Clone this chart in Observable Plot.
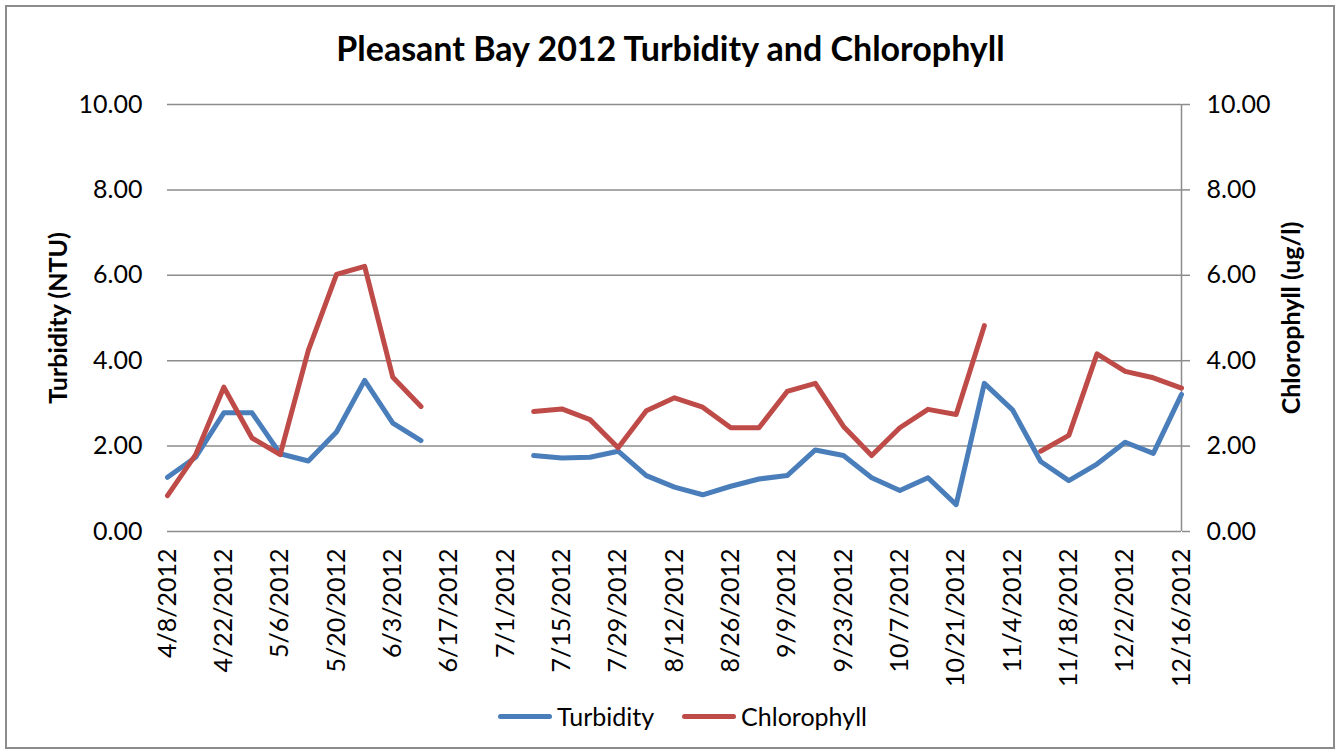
<!DOCTYPE html>
<html>
<head>
<meta charset="utf-8">
<script src="https://cdn.jsdelivr.net/npm/d3@7"></script>
<script src="https://cdn.jsdelivr.net/npm/@observablehq/plot@0.6"></script>
<style>
  html, body { margin: 0; padding: 0; background: #fff; }
  #wrap { position: relative; width: 1341px; height: 755px; overflow: hidden; font-family: Lato, "Liberation Sans", sans-serif; }
  #border { position: absolute; left: 5px; top: 5px; width: 1330px; height: 744px; border: 2px solid #8c8c8c; box-sizing: border-box; }
  #title { position: absolute; left: 0; width: 1341px; top: 27px; text-align: center; font-size: 34px; font-weight: bold; color: #000; }
  #legend { position: absolute; top: 701px; left: 12px; width: 1341px; display: flex; justify-content: center; font-size: 25px; color: #000; }
  .item { display: flex; align-items: center; margin: 0 14px; }
  .sw { width: 54px; height: 5px; border-radius: 3px; margin-right: 5px; }
  #chart svg { position: absolute; left: 0; top: 0; }
  g[aria-label="y-axis label"] text { font-weight: bold; }
</style>
</head>
<body>
<div id="wrap">
  <div id="chart"></div>
  <div id="border"></div>
  <div id="title">Pleasant Bay 2012 Turbidity and Chlorophyll</div>
  <div id="legend"></div>
</div>
<script>
const dates = ["2012-04-08","2012-04-15","2012-04-22","2012-04-29","2012-05-06","2012-05-13","2012-05-20","2012-05-27","2012-06-03","2012-06-10","2012-06-17","2012-06-24","2012-07-01","2012-07-08","2012-07-15","2012-07-22","2012-07-29","2012-08-05","2012-08-12","2012-08-19","2012-08-26","2012-09-02","2012-09-09","2012-09-16","2012-09-23","2012-09-30","2012-10-07","2012-10-14","2012-10-21","2012-10-28","2012-11-04","2012-11-11","2012-11-18","2012-11-25","2012-12-02","2012-12-09","2012-12-16"];
const turbidity = [1.27,1.74,2.78,2.78,1.82,1.65,2.33,3.54,2.54,2.13,null,null,null,1.78,1.72,1.74,1.88,1.31,1.04,0.86,1.06,1.23,1.31,1.91,1.78,1.26,0.96,1.26,0.63,3.47,2.85,1.64,1.19,1.58,2.09,1.83,3.21];
const chlorophyll = [0.84,1.80,3.38,2.19,1.80,4.24,6.02,6.21,3.61,2.93,null,null,null,2.81,2.87,2.62,1.96,2.83,3.13,2.91,2.43,2.43,3.28,3.47,2.46,1.78,2.43,2.86,2.74,4.82,null,1.88,2.25,4.16,3.75,3.60,3.36];
const xTicks = ["2012-04-08","2012-04-22","2012-05-06","2012-05-20","2012-06-03","2012-06-17","2012-07-01","2012-07-15","2012-07-29","2012-08-12","2012-08-26","2012-09-09","2012-09-23","2012-10-07","2012-10-21","2012-11-04","2012-11-18","2012-12-02","2012-12-16"];
const yTicks = [0, 2, 4, 6, 8, 10];
const series = [
  {name: "Turbidity", values: turbidity, color: "#4a7ebb"},
  {name: "Chlorophyll", values: chlorophyll, color: "#be4b48"}
];

const parse = d3.utcParse("%Y-%m-%d");
const fmt = d3.utcFormat("%-m/%-d/%Y");
const rows = [];
for (const s of series) {
  dates.forEach((d, i) => rows.push({date: parse(d), value: s.values[i], series: s.name}));
}
const gridColor = "#8c8c8c";

const chart = Plot.plot({
  width: 1341,
  height: 755,
  marginTop: 104,
  marginBottom: 224,
  marginLeft: 167,
  marginRight: 160,
  style: {fontFamily: "Lato, 'Liberation Sans', sans-serif", fontSize: "25px", color: "#000", background: "transparent"},
  x: {type: "utc", domain: [parse(dates[0]), parse(dates[dates.length - 1])]},
  y: {domain: [0, 10]},
  color: {domain: series.map(s => s.name), range: series.map(s => s.color)},
  marks: [
    Plot.gridY(yTicks, {stroke: gridColor, strokeOpacity: 1, strokeWidth: 1.5}),
    Plot.ruleX([parse(dates[dates.length - 1])], {y1: 0, y2: 10, stroke: gridColor, strokeWidth: 1.5}),
    Plot.axisY(yTicks, {anchor: "left", tickSize: 0, tickPadding: 25, tickFormat: d => d.toFixed(2), label: "Turbidity (NTU)", labelAnchor: "center", labelOffset: 118, labelArrow: "none"}),
    Plot.axisY(yTicks, {anchor: "right", tickSize: 8, tickPadding: 17, stroke: gridColor, strokeWidth: 1.5, tickFormat: d => d.toFixed(2), label: "Chlorophyll (ug/l)", labelAnchor: "center", labelOffset: 118, labelArrow: "none"}),
    Plot.axisX(xTicks.map(parse), {tickSize: 0, tickPadding: 17, tickRotate: -90, tickFormat: fmt, label: null}),
    Plot.line(rows, {x: "date", y: "value", z: "series", stroke: "series", strokeWidth: 5, strokeLinejoin: "round", strokeLinecap: "round"})
  ]
});
document.getElementById("chart").appendChild(chart);

const legend = document.getElementById("legend");
for (const s of series) {
  const it = document.createElement("div");
  it.className = "item";
  const sw = document.createElement("div");
  sw.className = "sw";
  sw.style.background = s.color;
  const tx = document.createElement("span");
  tx.textContent = s.name;
  it.appendChild(sw); it.appendChild(tx);
  legend.appendChild(it);
}
</script>
</body>
</html>
